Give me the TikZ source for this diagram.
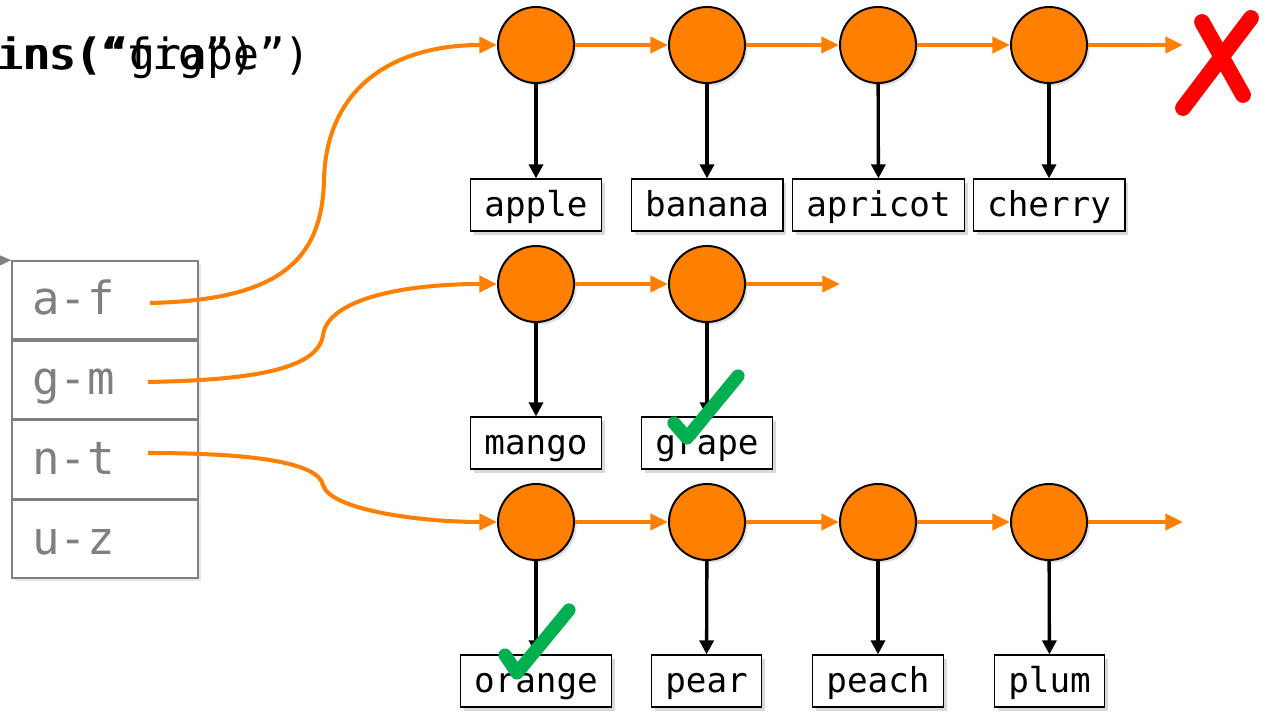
\documentclass[tikz,border=0pt]{standalone}
\usepackage{fontspec}
\setmonofont{DejaVu Sans Mono}
\usetikzlibrary{arrows.meta,positioning,shadows}
\definecolor{LinkOrange}{RGB}{255,128,0}
\definecolor{TickGreen}{RGB}{0,176,80}
\definecolor{CrossRed}{RGB}{255,0,0}
\definecolor{CellGray}{RGB}{128,128,128}
\tikzset{
  bucket/.style={circle, draw=black, line width=1.1pt, fill=LinkOrange,
    minimum size=1.52cm, inner sep=0pt,
    drop shadow={opacity=0.25, shadow xshift=1.5pt, shadow yshift=-1.5pt}},
  word/.style={draw=black, line width=0.7pt, fill=white,
    font=\ttfamily\fontsize{19.5}{22}\selectfont, text height=15pt, text depth=2pt,
    inner xsep=0.28cm, minimum height=1.04cm,
    drop shadow={opacity=0.3, shadow xshift=2pt, shadow yshift=-2pt}},
  cell/.style={draw=CellGray, line width=1pt, fill=white, text=CellGray,
    font=\ttfamily\fontsize{26}{30}\selectfont, text height=20pt, text depth=3pt,
    text width=2.92cm, inner xsep=0.4cm, minimum height=1.56cm, align=left,
    drop shadow={opacity=0.2, shadow xshift=1.5pt, shadow yshift=-1.5pt}},
  query/.style={font=\ttfamily\fontsize{24.5}{28}\selectfont, inner sep=0pt, anchor=base west},
  link/.style={-{Triangle[length=10pt,width=9pt]}, line width=2.3pt, LinkOrange},
  ptr/.style={-{Triangle[length=8pt,width=8pt]}, line width=1.9pt, black},
  tick/.style={TickGreen, line width=7.5pt, line cap=round, line join=round},
  cross/.style={CrossRed, line width=9pt, line cap=round}
}
\begin{document}
\begin{tikzpicture}[x=0.02cm, y=-0.02cm]
  \useasboundingbox (0,0) rectangle (1271,716);

  % the lookups being run
  \node[query] (qfig) at (-133,70) {contains(“fig”)};
  \node[query] (qgrape) at (-130,70) {contains(“grape”)};

  % hash table buckets
  \node[cell] (ca) at (105,300) {a-f};
  \node[cell, below=0cm of ca] (cg) {g-m};
  \node[cell, below=0cm of cg] (cn) {n-t};
  \node[cell, below=0cm of cn] (cu) {u-z};
  \coordinate (tin) at (-30,261);
  \draw[-{Triangle[length=8pt,width=7pt]}, CellGray, line width=1pt] (tin) -- (ca.north west);

  % chain a-f
  \node[bucket] (a1) at (536,45) {};
  \node[bucket] (a2) at (707,45) {};
  \node[bucket] (a3) at (878,45) {};
  \node[bucket] (a4) at (1049,45) {};
  \coordinate (aend) at (1183,45);
  \node[word] (apple) at (536,205) {apple};
  \node[word] (banana) at (707,205) {banana};
  \node[word] (apricot) at (878.5,205) {apricot};
  \node[word] (cherry) at (1049,205) {cherry};

  % chain g-m
  \node[bucket] (g1) at (536,284) {};
  \node[bucket] (g2) at (707,284) {};
  \coordinate (gend) at (840,284);
  \node[word] (mango) at (536,443) {mango};
  \node[word] (grape) at (707,443) {grape};

  % chain n-t
  \node[bucket] (n1) at (536,522) {};
  \node[bucket] (n2) at (707,522) {};
  \node[bucket] (n3) at (878,522) {};
  \node[bucket] (n4) at (1049,522) {};
  \coordinate (nend) at (1183,522);
  \node[word] (orange) at (536,681) {orange};
  \node[word] (pear) at (706.5,681) {pear};
  \node[word] (peach) at (878,681) {peach};
  \node[word] (plum) at (1049.5,681) {plum};

  % next pointers
  \draw[link] (a1) -- (a2);
  \draw[link] (a2) -- (a3);
  \draw[link] (a3) -- (a4);
  \draw[link] (a4) -- (aend);
  \draw[link] (g1) -- (g2);
  \draw[link] (g2) -- (gend);
  \draw[link] (n1) -- (n2);
  \draw[link] (n2) -- (n3);
  \draw[link] (n3) -- (n4);
  \draw[link] (n4) -- (nend);

  % value pointers
  \draw[ptr] (a1) -- (apple);
  \draw[ptr] (a2) -- (banana);
  \draw[ptr] (a3) -- (apricot);
  \draw[ptr] (a4) -- (cherry);
  \draw[ptr] (g1) -- (mango);
  \draw[ptr] (g2) -- (grape);
  \draw[ptr] (n1) -- (orange);
  \draw[ptr] (n2) -- (pear);
  \draw[ptr] (n3) -- (peach);
  \draw[ptr] (n4) -- (plum);

  % buckets to chains
  \coordinate (ka) at (150,303);
  \coordinate (kg) at (148,382);
  \coordinate (kn) at (148,453);
  \draw[link] (ka) .. controls (280,300) and (322,260) .. (324,180)
    .. controls (326,90) and (390,45) .. (a1.west);
  \draw[link] (kg) .. controls (250,380) and (318,370) .. (323,335)
    .. controls (328,300) and (400,284) .. (g1.west);
  \draw[link] (kn) .. controls (250,453) and (318,462) .. (323,485)
    .. controls (330,510) and (420,522) .. (n1.west);

  % found / not found
  \draw[tick] (674,423) -- (687,438) -- (738,376);
  \draw[tick] (505,655) -- (517,673) -- (569,610);
  \draw[cross] (1202,22) -- (1243,95);
  \draw[cross] (1251,18) -- (1183,108);
\end{tikzpicture}
\end{document}
